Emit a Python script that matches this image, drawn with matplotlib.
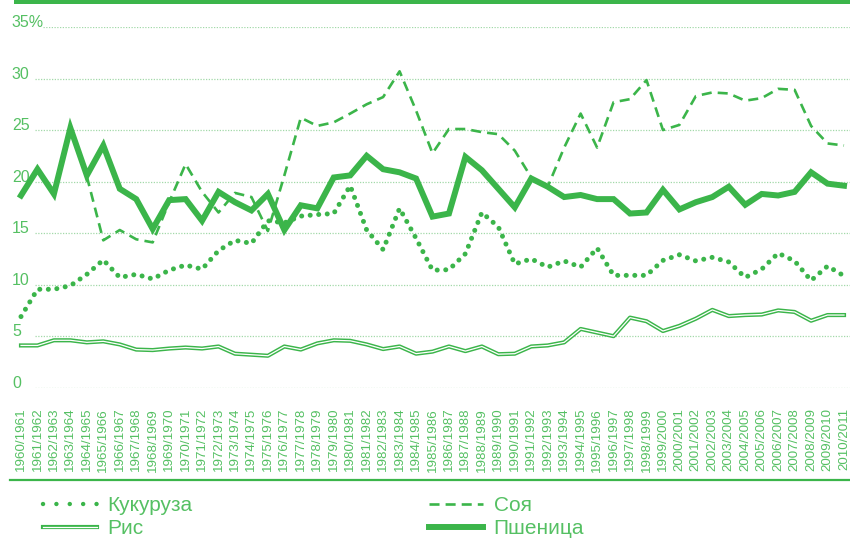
import numpy as np
import matplotlib.pyplot as plt
from matplotlib.lines import Line2D
from matplotlib.patches import Rectangle

plt.rcParams['font.family'] = ['Liberation Sans', 'DejaVu Sans']

# seasons on the x axis
seasons = [f'{y}/{y + 1}' for y in range(1960, 2011)]

# shares, %
corn = [6.9, 9.55, 9.55, 9.9, 11.0, 12.4, 10.7, 11.0, 10.55, 11.4, 11.9, 11.5, 13.3, 14.3,
        14.0, 16.2, 16.0, 16.65, 16.8, 16.9, 19.6, 15.3, 13.4, 17.4, 14.5, 11.4, 11.45, 13.0,
        17.0, 15.6, 12.0, 12.5, 11.7, 12.3, 11.7, 13.55, 10.9, 10.9, 10.9, 12.35, 12.9, 12.3,
        12.65, 12.2, 10.7, 11.5, 13.05, 12.3, 10.4, 11.8, 10.85]
rice = [4.1, 4.1, 4.6, 4.6, 4.4, 4.5, 4.2, 3.7, 3.65, 3.8, 3.9, 3.8, 4.0, 3.3, 3.2, 3.1,
        4.0, 3.7, 4.3, 4.6, 4.55, 4.2, 3.75, 4.0, 3.3, 3.5, 4.0, 3.55, 4.0, 3.25, 3.3, 4.0,
        4.1, 4.4, 5.7, 5.35, 5.0, 6.8, 6.45, 5.5, 6.0, 6.7, 7.55, 6.95, 7.05, 7.1, 7.5, 7.35,
        6.5, 7.05, 7.05]
soy = [np.nan, np.nan, np.nan, np.nan, 20.5, 14.3, 15.3, 14.4, 14.1, 18.0, 21.7, 19.0,
       17.0, 18.9, 18.5, 15.2, 20.6, 26.2, 25.4, 25.75, 26.6, 27.5, 28.2, 30.7, 26.9, 22.75,
       25.1, 25.1, 24.8, 24.6, 23.0, 20.4, 19.5, 23.3, 26.6, 23.3, 27.7, 28.0, 29.85, 25.0,
       25.5, 28.3, 28.65, 28.55, 27.85, 28.1, 29.0, 28.9, 25.4, 23.7, 23.5]
wheat = [18.65, 21.2, 18.8, 25.2, 20.6, 23.5, 19.3, 18.3, 15.4, 18.2, 18.3, 16.2, 19.0, 18.0,
         17.2, 18.8, 15.3, 17.7, 17.4, 20.4, 20.6, 22.5, 21.2, 20.9, 20.3, 16.6, 16.9, 22.4,
         21.1, 19.3, 17.5, 20.3, 19.5, 18.5, 18.7, 18.3, 18.3, 16.9, 17.0, 19.2, 17.3, 18.0,
         18.5, 19.5, 17.75, 18.8, 18.65, 19.0, 20.9, 19.8, 19.6]

yticks = [0, 5, 10, 15, 20, 25, 30, 35]
ytick_labels = ['0', '5', '10', '15', '20', '25', '30', '35%']

green = '#3bb54a'
text_green = '#55c063'
grid_green = '#a3d9a9'

W, H = 850, 539
fig = plt.figure(figsize=(W / 100, H / 100), dpi=100)
ax = fig.add_axes([0, (H - 387.7) / H, 1, (387.7 - 27) / H])

step = 16.46
x = np.arange(len(seasons))
ax.set_xlim(-21 / step, (W - 21) / step)
ax.set_ylim(0, 35)
for s in ax.spines.values():
    s.set_visible(False)

# dotted gridlines, starting a bit right of the labels
xmax = ax.get_xlim()[1]
for yv in yticks:
    x0 = (43 - 21) / step if yv == 35 else (35 - 21) / step
    ax.hlines(yv, x0, xmax, color=grid_green, lw=0.9, linestyle=(0, (1, 1.2)), zorder=1)

# series
ax.plot(x, rice, color=green, lw=3.0, zorder=2, clip_on=False)
ax.plot(x, rice, color='white', lw=0.9, zorder=2, clip_on=False)
ax.plot(x, corn, color=green, lw=3.6, linestyle=(0, (0.01, 1.7)), dash_capstyle='round',
        zorder=3, clip_on=False)
ax.plot(x, wheat, color=green, lw=4.3, solid_joinstyle='miter', zorder=3, clip_on=False)
ax.plot(x, soy, color=green, lw=1.9, linestyle=(0, (3.8, 2.3)), zorder=4, clip_on=False)

# ticks
ax.set_yticks(yticks)
ax.set_yticklabels(ytick_labels)
ax.tick_params(axis='y', length=0, pad=-8.6, labelsize=11.5, labelcolor=text_green)
for t in ax.get_yticklabels():
    t.set_horizontalalignment('left')
    t.set_verticalalignment('baseline')

ax.set_xticks(x)
ax.set_xticklabels(seasons, rotation=90)
ax.tick_params(axis='x', length=0, pad=14.5, labelsize=9.6, labelcolor=text_green)

# top bar and bottom rule
fig.add_artist(Rectangle((14 / W, 1 - 4 / H), 1 - 14 / W, 4 / H, transform=fig.transFigure,
                         color=green, lw=0))
fig.add_artist(Line2D([10 / W, 1], [1 - 479.5 / H] * 2, transform=fig.transFigure,
                      color=green, lw=1.6))

# legend
h_corn = Line2D([], [], color=green, lw=3.2, linestyle=(0, (0.01, 3.0)), dash_capstyle='round')
h_rice = (Line2D([], [], color=green, lw=3.0), Line2D([], [], color='white', lw=0.9))
h_soy = Line2D([], [], color=green, lw=1.9, linestyle=(0, (3.8, 2.3)))
h_wheat = Line2D([], [], color=green, lw=4.3)
fig.legend(handles=[h_corn, h_rice, h_soy, h_wheat],
           labels=['Кукуруза', 'Рис', 'Соя', 'Пшеница'],
           ncol=2, loc='upper left', bbox_to_anchor=(43 / W, 1 - 496 / H),
           frameon=False, fontsize=15, labelcolor=text_green,
           handlelength=2.6, handletextpad=0.5, columnspacing=11.35,
           labelspacing=0.2, borderpad=0, borderaxespad=0)

fig.savefig('out.png', dpi=100)
